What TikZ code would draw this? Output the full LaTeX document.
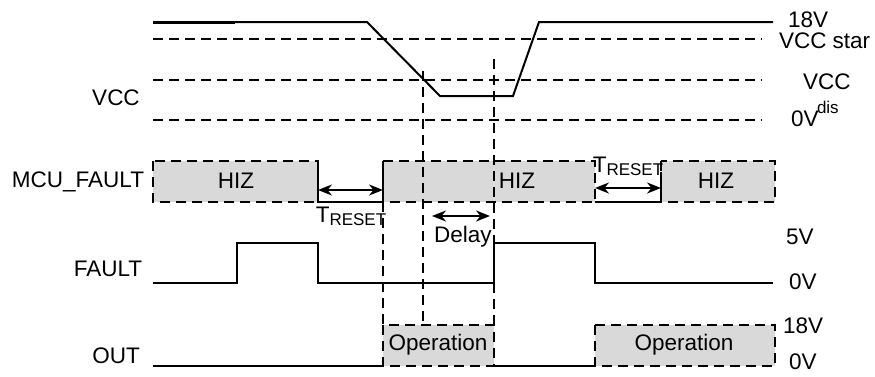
\documentclass[tikz,border=0pt]{standalone}
\usepackage{fontspec}
\setmainfont{Liberation Sans}
\usetikzlibrary{arrows.meta}

\begin{document}
\begin{tikzpicture}[x=0.5pt, y=-0.5pt, line width=1pt,
    font=\fontsize{11.25}{13}\selectfont,
    every node/.style={inner sep=0pt},
    level/.style={dash pattern=on 5pt off 3pt},
    greybox/.style={fill=black!15, draw, dash pattern=on 5pt off 3pt},
    span/.style={{Stealth[length=7pt,width=5.5pt]}-{Stealth[length=7pt,width=5.5pt]}}]
            \useasboundingbox (0,0) rectangle (875,376);

            % VCC levels
            \draw[level] (153,39) -- (762,39);
            \draw[level] (153,80) -- (762,80);
            \draw[level] (153,120) -- (762,120);

            % VCC trace
            \draw (153,22) -- (367,22) -- (440,96) -- (513,96) -- (539,22) -- (773,22);
            \draw[line width=1.5pt] (153,22) -- (235,22);

            % MCU_FAULT boxes
            \draw[greybox] (153,161) rectangle (318,202);
            \draw[greybox] (383,161) rectangle (595,202);
            \draw[greybox] (661,161) rectangle (775,202);
            \draw (318,161) -- (318,202) -- (383,202) -- (383,161);
            \draw (595,202) -- (661,202) -- (661,172);

            % OUT boxes
            \draw (153,366) -- (383,366);
            \draw (494,366) -- (595,366);
            \draw[greybox] (383,325) rectangle (494,366);
            \draw[greybox] (595,325) rectangle (775,366);

            % FAULT trace
            \draw (153,283) -- (237,283) -- (237,243) -- (318,243) -- (318,283)
                -- (494,283) -- (494,243) -- (595,243) -- (595,283) -- (773,283);

            % markers
            \draw[level] (383,202) -- (383,325);
            \draw[level] (423,71) -- (423,325);
            \draw[level] (494,59) -- (494,325);

            % spans
            \coordinate (r1a) at (318,190);
            \coordinate (r1b) at (383,190);
            \coordinate (r2a) at (595,188);
            \coordinate (r2b) at (661,188);
            \coordinate (d1) at (432,216);
            \coordinate (d2) at (490,216);
            \draw[span] (r1a) -- (r1b);
            \draw[span] (r2a) -- (r2b);
            \draw[span] (d1) -- (d2);

            % signal names
            \node (vcc) at (116,98) {VCC};
            \node (mcu) at (78,182) {MCU\_FAULT};
            \node (fault) at (108,269) {FAULT};
            \node (out) at (116,356) {OUT};

            % box texts
            \node (hiz1) at (236,181) {HIZ};
            \node (hiz2) at (517,181) {HIZ};
            \node (hiz3) at (716,181) {HIZ};
            \node (op1) at (438,345) {Operation};
            \node (op2) at (684,345) {Operation};
            \node (treset1) at (351,216) {T{\fontsize{8.5}{10}\selectfont\raisebox{-0.35ex}{RESET}}};
            \node (treset2) at (628,166) {T{\fontsize{8.5}{10}\selectfont\raisebox{-0.35ex}{RESET}}};
            \node (delay) at (463,237) {Delay};

            % level names
            \node[anchor=west] (v18) at (787,20) {18V};
            \node[anchor=west] (vstart) at (778,41) {VCC star};
            \node[anchor=west] (vdis) at (802,82) {VCC};
            \node[anchor=west] (v0) at (790,119) {0V};
            \node[anchor=west, font=\fontsize{8.5}{10}\selectfont] (dis) at (816,107) {dis};
            \node[anchor=west] (f5) at (785,237) {5V};
            \node[anchor=west] (f0) at (788,282) {0V};
            \node[anchor=west] (o18) at (782,326) {18V};
            \node[anchor=west] (o0) at (788,362) {0V};
        \end{tikzpicture}
\end{document}
